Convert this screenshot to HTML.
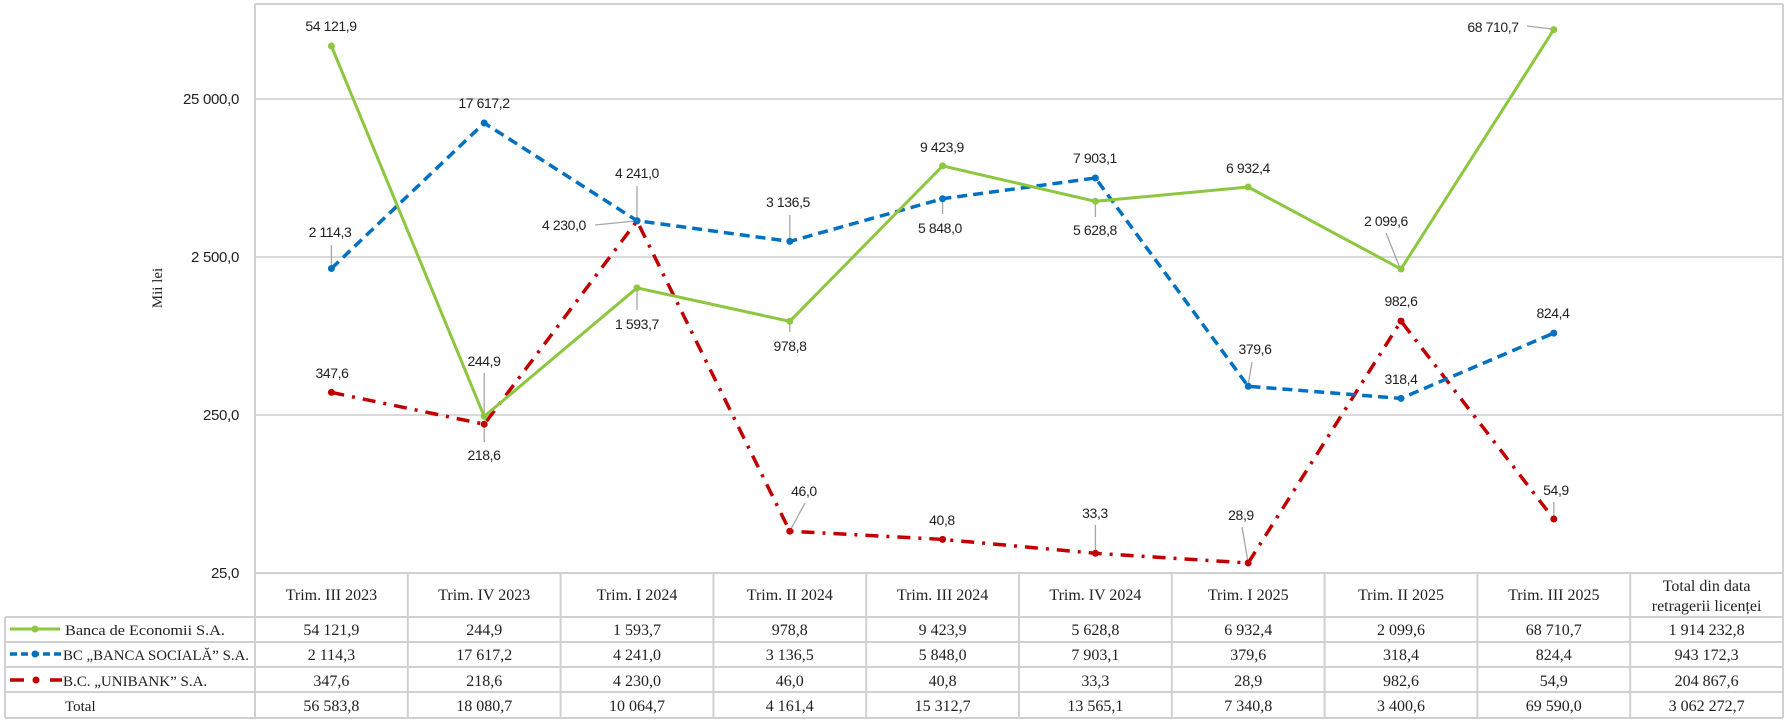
<!DOCTYPE html>
<html><head><meta charset="utf-8"><style>
html,body{margin:0;padding:0;background:#fff;}
svg{display:block}
.l{font-family:"Liberation Sans",sans-serif;font-size:14px;fill:#222;text-anchor:middle;letter-spacing:-0.4px}
.ax{font-family:"Liberation Sans",sans-serif;font-size:15px;fill:#222;text-anchor:end;letter-spacing:-0.3px}
.t{font-family:"Liberation Serif",serif;font-size:16px;fill:#222;text-anchor:middle}
.tl{font-family:"Liberation Serif",serif;font-size:16px;fill:#222}
</style></head><body>
<svg width="1790" height="724" viewBox="0 0 1790 724" xmlns="http://www.w3.org/2000/svg">
<g stroke="#d9d9d9" stroke-width="2">
<line x1="255" y1="99" x2="1783" y2="99"/>
<line x1="255" y1="257" x2="1783" y2="257"/>
<line x1="255" y1="415" x2="1783" y2="415"/>
</g>
<g stroke="#d0d0d0" stroke-width="2" fill="none">
<line x1="255" y1="4" x2="1783" y2="4"/>
<line x1="255" y1="4" x2="255" y2="718"/>
<line x1="1783" y1="4" x2="1783" y2="718"/>
<line x1="255" y1="573" x2="1783" y2="573"/>
<line x1="5" y1="617" x2="1783" y2="617"/>
<line x1="5" y1="642" x2="1783" y2="642"/>
<line x1="5" y1="667" x2="1783" y2="667"/>
<line x1="5" y1="692" x2="1783" y2="692"/>
<line x1="5" y1="718" x2="1783" y2="718"/>
<line x1="5" y1="617" x2="5" y2="718"/>
<line x1="407.8" y1="573" x2="407.8" y2="718"/>
<line x1="560.6" y1="573" x2="560.6" y2="718"/>
<line x1="713.4" y1="573" x2="713.4" y2="718"/>
<line x1="866.2" y1="573" x2="866.2" y2="718"/>
<line x1="1019" y1="573" x2="1019" y2="718"/>
<line x1="1171.8" y1="573" x2="1171.8" y2="718"/>
<line x1="1324.6" y1="573" x2="1324.6" y2="718"/>
<line x1="1477.4" y1="573" x2="1477.4" y2="718"/>
<line x1="1630.2" y1="573" x2="1630.2" y2="718"/>
</g>
<text class="ax" x="239" y="104">25 000,0</text>
<text class="ax" x="239" y="262">2 500,0</text>
<text class="ax" x="239" y="420">250,0</text>
<text class="ax" x="239" y="578">25,0</text>
<text class="tl" x="0" y="0" transform="translate(162,288) rotate(-90)" text-anchor="middle" style="font-size:15px">Mii lei</text>

<g stroke="#a6a6a6" stroke-width="1.3" fill="none">
<line x1="331.4" y1="245" x2="331.4" y2="266"/>
<line x1="484.2" y1="373" x2="484.2" y2="414"/>
<line x1="484.2" y1="426" x2="484.2" y2="442"/>
<line x1="637" y1="290" x2="637" y2="310"/>
<line x1="789.8" y1="323" x2="789.8" y2="332"/>
<line x1="637" y1="186" x2="637" y2="219"/>
<line x1="595" y1="225" x2="635" y2="221"/>
<line x1="789.8" y1="215" x2="789.8" y2="240"/>
<line x1="942.6" y1="200" x2="942.6" y2="214"/>
<line x1="1095.4" y1="203" x2="1095.4" y2="217"/>
<line x1="1386" y1="233" x2="1400" y2="268"/>
<line x1="1527" y1="26" x2="1552" y2="29"/>
<line x1="1252" y1="362" x2="1248.2" y2="385"/>
<line x1="1553.8" y1="502" x2="1553.8" y2="518"/>
<line x1="1095.4" y1="525" x2="1095.4" y2="552"/>
<line x1="1242" y1="527" x2="1248" y2="562"/>
<line x1="805" y1="503" x2="790.5" y2="530"/>
</g>

<polyline fill="none" stroke="#c00000" stroke-width="3.5" stroke-dasharray="13,8,3,8" points="331.4,392.4 484.2,424.2 637,220.9 789.8,531.2 942.6,539.4 1095.4,553.3 1248.2,563 1401,321.1 1553.8,519"/>
<polyline fill="none" stroke="#0070c0" stroke-width="3.5" stroke-dasharray="10,6" points="331.4,268.5 484.2,123 637,220.7 789.8,241.4 942.6,198.7 1095.4,178 1248.2,386.3 1401,398.4 1553.8,333.1"/>
<polyline fill="none" stroke="#8dc63f" stroke-width="3" points="331.4,46 484.2,416.4 637,287.9 789.8,321.3 942.6,165.9 1095.4,201.3 1248.2,187 1401,269 1553.8,29.6"/>
<g fill="#c00000">
<circle cx="331.4" cy="392.4" r="3.5"/><circle cx="484.2" cy="424.2" r="3.5"/><circle cx="637" cy="220.9" r="3.5"/><circle cx="789.8" cy="531.2" r="3.5"/><circle cx="942.6" cy="539.4" r="3.5"/><circle cx="1095.4" cy="553.3" r="3.5"/><circle cx="1248.2" cy="563" r="3.5"/><circle cx="1401" cy="321.1" r="3.5"/><circle cx="1553.8" cy="519" r="3.5"/>
</g>
<g fill="#0070c0">
<circle cx="331.4" cy="268.5" r="3.5"/><circle cx="484.2" cy="123" r="3.5"/><circle cx="637" cy="220.7" r="3.5"/><circle cx="789.8" cy="241.4" r="3.5"/><circle cx="942.6" cy="198.7" r="3.5"/><circle cx="1095.4" cy="178" r="3.5"/><circle cx="1248.2" cy="386.3" r="3.5"/><circle cx="1401" cy="398.4" r="3.5"/><circle cx="1553.8" cy="333.1" r="3.5"/>
</g>
<g fill="#8dc63f">
<circle cx="331.4" cy="46" r="3.5"/><circle cx="484.2" cy="416.4" r="3.5"/><circle cx="637" cy="287.9" r="3.5"/><circle cx="789.8" cy="321.3" r="3.5"/><circle cx="942.6" cy="165.9" r="3.5"/><circle cx="1095.4" cy="201.3" r="3.5"/><circle cx="1248.2" cy="187" r="3.5"/><circle cx="1401" cy="269" r="3.5"/><circle cx="1553.8" cy="29.6" r="3.5"/>
</g>

<text class="l" x="331" y="31">54 121,9</text>
<text class="l" x="484" y="366">244,9</text>
<text class="l" x="637" y="329">1 593,7</text>
<text class="l" x="790" y="351">978,8</text>
<text class="l" x="942" y="152">9 423,9</text>
<text class="l" x="1095" y="235">5 628,8</text>
<text class="l" x="1248" y="173">6 932,4</text>
<text class="l" x="1386" y="226">2 099,6</text>
<text class="l" x="1493" y="32">68 710,7</text>

<text class="l" x="330" y="237">2 114,3</text>
<text class="l" x="484" y="108">17 617,2</text>
<text class="l" x="637" y="178">4 241,0</text>
<text class="l" x="788" y="207">3 136,5</text>
<text class="l" x="940" y="233">5 848,0</text>
<text class="l" x="1095" y="163">7 903,1</text>
<text class="l" x="1255" y="354">379,6</text>
<text class="l" x="1401" y="384">318,4</text>
<text class="l" x="1553" y="318">824,4</text>

<text class="l" x="332" y="378">347,6</text>
<text class="l" x="484" y="460">218,6</text>
<text class="l" x="564" y="230">4 230,0</text>
<text class="l" x="804" y="496">46,0</text>
<text class="l" x="942" y="525">40,8</text>
<text class="l" x="1095" y="518">33,3</text>
<text class="l" x="1241" y="520">28,9</text>
<text class="l" x="1401" y="306">982,6</text>
<text class="l" x="1556" y="495">54,9</text>

<text class="t" x="331.4" y="600">Trim. III 2023</text>
<text class="t" x="484.2" y="600">Trim. IV 2023</text>
<text class="t" x="637" y="600">Trim. I 2024</text>
<text class="t" x="789.8" y="600">Trim. II 2024</text>
<text class="t" x="942.6" y="600">Trim. III 2024</text>
<text class="t" x="1095.4" y="600">Trim. IV 2024</text>
<text class="t" x="1248.2" y="600">Trim. I 2025</text>
<text class="t" x="1401" y="600">Trim. II 2025</text>
<text class="t" x="1553.8" y="600">Trim. III 2025</text>
<text class="t" x="1706.6" y="591">Total din data</text>
<text class="t" x="1706.6" y="611">retragerii licenței</text>

<line x1="10" y1="629" x2="60" y2="629" stroke="#8dc63f" stroke-width="3"/>
<circle cx="35" cy="629" r="3.5" fill="#8dc63f"/>
<line x1="10" y1="654" x2="62" y2="654" stroke="#0070c0" stroke-width="3.5" stroke-dasharray="7,4"/>
<circle cx="35" cy="654" r="3.5" fill="#0070c0"/>
<line x1="10" y1="680" x2="24" y2="680" stroke="#c00000" stroke-width="3.5"/>
<circle cx="36" cy="680" r="3.5" fill="#c00000"/>
<line x1="50" y1="680" x2="62" y2="680" stroke="#c00000" stroke-width="3.5"/>
<text class="tl" x="65" y="635" style="font-size:15px" textLength="160" lengthAdjust="spacingAndGlyphs">Banca de Economii S.A.</text>
<text class="tl" x="63" y="660" style="font-size:15px" textLength="186" lengthAdjust="spacingAndGlyphs">BC „BANCA SOCIALĂ” S.A.</text>
<text class="tl" x="63" y="686" style="font-size:15px">B.C. „UNIBANK” S.A.</text>
<text class="tl" x="65" y="711" style="font-size:15px">Total</text>

<text class="t" x="331.4" y="635">54 121,9</text><text class="t" x="484.2" y="635">244,9</text><text class="t" x="637" y="635">1 593,7</text><text class="t" x="789.8" y="635">978,8</text><text class="t" x="942.6" y="635">9 423,9</text><text class="t" x="1095.4" y="635">5 628,8</text><text class="t" x="1248.2" y="635">6 932,4</text><text class="t" x="1401" y="635">2 099,6</text><text class="t" x="1553.8" y="635">68 710,7</text><text class="t" x="1706.6" y="635">1 914 232,8</text>
<text class="t" x="331.4" y="660">2 114,3</text><text class="t" x="484.2" y="660">17 617,2</text><text class="t" x="637" y="660">4 241,0</text><text class="t" x="789.8" y="660">3 136,5</text><text class="t" x="942.6" y="660">5 848,0</text><text class="t" x="1095.4" y="660">7 903,1</text><text class="t" x="1248.2" y="660">379,6</text><text class="t" x="1401" y="660">318,4</text><text class="t" x="1553.8" y="660">824,4</text><text class="t" x="1706.6" y="660">943 172,3</text>
<text class="t" x="331.4" y="686">347,6</text><text class="t" x="484.2" y="686">218,6</text><text class="t" x="637" y="686">4 230,0</text><text class="t" x="789.8" y="686">46,0</text><text class="t" x="942.6" y="686">40,8</text><text class="t" x="1095.4" y="686">33,3</text><text class="t" x="1248.2" y="686">28,9</text><text class="t" x="1401" y="686">982,6</text><text class="t" x="1553.8" y="686">54,9</text><text class="t" x="1706.6" y="686">204 867,6</text>
<text class="t" x="331.4" y="711">56 583,8</text><text class="t" x="484.2" y="711">18 080,7</text><text class="t" x="637" y="711">10 064,7</text><text class="t" x="789.8" y="711">4 161,4</text><text class="t" x="942.6" y="711">15 312,7</text><text class="t" x="1095.4" y="711">13 565,1</text><text class="t" x="1248.2" y="711">7 340,8</text><text class="t" x="1401" y="711">3 400,6</text><text class="t" x="1553.8" y="711">69 590,0</text><text class="t" x="1706.6" y="711">3 062 272,7</text>
</svg>
</body></html>
